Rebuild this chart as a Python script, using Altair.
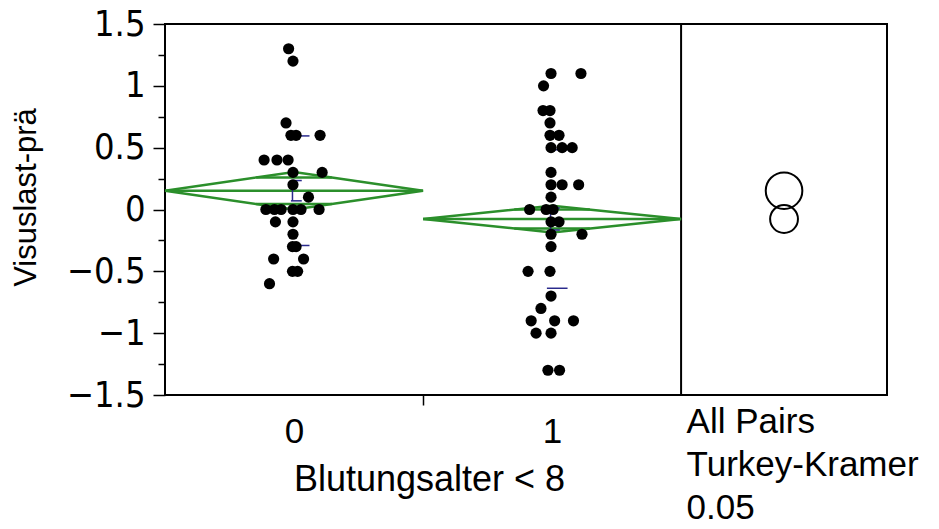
import math
import altair as alt
import pandas as pd

# ---------------- data ----------------
groups = [0, 1]
group_labels = ["0", "1"]

# group 0 observations and their horizontal jitter (fraction of group width)
g0_values = [1.3, 1.2, 0.7, 0.6, 0.6, 0.6, 0.4, 0.4, 0.4, 0.3, 0.3, 0.2, 0.1,
             0.0, 0.0, 0.0, 0.0, 0.0, 0.0, -0.1, -0.1, -0.2, -0.3, -0.3,
             -0.4, -0.4, -0.5, -0.5, -0.6]
g0_jitter = [-0.021, -0.004, -0.031, -0.012, 0.008, 0.101, -0.116, -0.066, -0.023,
             -0.004, 0.109, -0.004, 0.056, -0.109, -0.076, -0.050, -0.004, 0.027,
             0.097, -0.072, -0.004, -0.004, -0.006, 0.008, -0.079, 0.037, -0.006,
             0.014, -0.095]

# group 1 observations and jitter
g1_values = [1.1, 1.1, 1.0, 0.8, 0.8, 0.7, 0.6, 0.6, 0.5, 0.5, 0.5, 0.3, 0.2, 0.2,
             0.2, 0.1, 0.0, 0.0, 0.0, -0.1, -0.1, -0.2, -0.2, -0.3, -0.5, -0.5,
             -0.7, -0.8, -0.9, -0.9, -0.9, -1.0, -1.0, -1.3, -1.3]
g1_jitter = [-0.004, 0.112, -0.033, -0.035, -0.008, -0.008, -0.008, 0.027, -0.004,
             0.039, 0.078, -0.004, -0.004, 0.039, 0.103, -0.004, -0.087, -0.023,
             0.004, -0.004, 0.027, -0.004, 0.116, -0.004, -0.093, -0.008, -0.004,
             -0.043, -0.081, 0.010, 0.083, -0.062, -0.004, -0.016, 0.029]

# summary statistics per group
means = [0.152, -0.077]
ci_half = [0.152, 0.108]       # half-height of the means diamonds
std_devs = [0.443, 0.560]
std_errs = [0.082, 0.089]
circle_radius = [0.167, 0.127]  # comparison circles (y units)

panel_label_lines = ["All Pairs", "Turkey-Kramer", "0.05"]
x_title = "Blutungsalter < 8"
y_title = "Visuslast-prä"

y_ticks = [-1.5, -1.25, -1.0, -0.75, -0.5, -0.25, 0.0, 0.25, 0.5, 0.75, 1.0, 1.25, 1.5]

# ---------------- layout ----------------
W, H = 722, 371
X_MIN, X_MAX = -0.5, 2.298
Y_MIN, Y_MAX = -1.5, 1.5
PANEL_SPLIT = 1.5
GREEN = "#2b8f2b"
BLUE = "#2a2a8c"

# ---------------- tables ----------------
pts = pd.DataFrame({
    "x": [0 + j for j in g0_jitter] + [1 + j for j in g1_jitter],
    "y": g0_values + g1_values,
})

rows = []
w_ovl = 0.5 * (1 - 1 / math.sqrt(2))
for g, m, h in zip(groups, means, ci_half):
    poly = [(g - 0.5, m), (g, m + h), (g + 0.5, m), (g, m - h), (g - 0.5, m)]
    for k, (xx, yy) in enumerate(poly):
        rows.append({"key": f"d{g}", "ord": k, "x": xx, "y": yy})
    for k, xx in enumerate([g - 0.5, g + 0.5]):
        rows.append({"key": f"m{g}", "ord": k, "x": xx, "y": m})
    for s in (1, -1):
        yy = m + s * h / math.sqrt(2)
        for k, xx in enumerate([g - w_ovl, g + w_ovl]):
            rows.append({"key": f"o{g}{s}", "ord": k, "x": xx, "y": yy})
diamond = pd.DataFrame(rows)

sd_rows, eb_rows, cap_rows = [], [], []
for g, m, sd, se in zip(groups, means, std_devs, std_errs):
    for s in (1, -1):
        sd_rows.append({"x": g - 0.02, "x2": g + 0.06, "y": m + s * sd})
        cap_rows.append({"x": g - 0.012, "x2": g + 0.03, "y": m + s * se})
    eb_rows.append({"x": g - 0.006, "y": m - se, "y2": m + se})
sd_df = pd.DataFrame(sd_rows)
eb_df = pd.DataFrame(eb_rows)
cap_df = pd.DataFrame(cap_rows)

px_per_unit = H / (Y_MAX - Y_MIN)
circ = pd.DataFrame({
    "x": [(PANEL_SPLIT + X_MAX) / 2] * len(groups),
    "y": means,
    "size": [math.pi * (r * px_per_unit) ** 2 for r in circle_radius],
})

# ---------------- axes ----------------
major_test = "abs(datum.value * 2 - round(datum.value * 2)) < 0.001"
y_axis = alt.Axis(
    values=y_ticks,
    labelExpr=f"{major_test} ? format(datum.value, '~g') : ''",
    tickSize={"condition": {"test": major_test, "value": 12}, "value": 7},
    tickWidth=1.5, tickColor="black", domain=False, grid=False,
    labelFont="DejaVu Sans Condensed, Noto Sans", labelFontSize=36,
    labelColor="black", labelPadding=8, labelBaseline="middle",
    title=y_title, titleFont="Liberation Sans", titleFontSize=31,
    titleFontWeight="normal", titleColor="black", titleAngle=-90,
    titleX=-139, titleY=173, titleAlign="center", titleBaseline="middle",
)

lines_js = "[" + ", ".join("'" + t + "'" for t in panel_label_lines) + "]"
x_axis = alt.Axis(
    values=[0, 0.5, 1, PANEL_SPLIT],
    labelExpr=(f"datum.value == 0.5 ? '' : datum.value == {PANEL_SPLIT} ? {lines_js} "
               f": ({group_labels!r})[round(datum.value)]").replace('"', "'"),
    tickOpacity={"condition": {"test": "datum.value == 0.5", "value": 1}, "value": 0},
    tickSize=10, tickWidth=1.5, tickColor="black", domain=False, grid=False,
    labelFont="Liberation Sans", labelFontSize=35, labelColor="black",
    labelBaseline="alphabetic", labelLineHeight=43, labelLimit=0,
    labelAlign={"condition": {"test": f"datum.value == {PANEL_SPLIT}", "value": "left"}, "value": "center"},
    labelPadding={"condition": {"test": f"datum.value == {PANEL_SPLIT}", "value": 27}, "value": 37},
    labelOffset={"condition": {"test": f"datum.value == {PANEL_SPLIT}", "value": 5}, "value": 0},
    labelOverlap=False, labelFlush=False, labelBound=False,
    title=x_title, titleFont="Liberation Sans", titleFontSize=36,
    titleFontWeight="normal", titleColor="black",
    titleX=264, titleY=95, titleAlign="center", titleBaseline="alphabetic",
)

xs = alt.Scale(domain=[X_MIN, X_MAX], nice=False, zero=False)
ys = alt.Scale(domain=[Y_MIN, Y_MAX], nice=False, zero=False)
X = alt.X("x:Q", scale=xs, axis=x_axis)
Y = alt.Y("y:Q", scale=ys, axis=y_axis)

# ---------------- layers ----------------
divider = alt.Chart(pd.DataFrame({"x": [PANEL_SPLIT]})).mark_rule(
    color="black", strokeWidth=2).encode(x=X)

diamonds = alt.Chart(diamond).mark_line(color=GREEN, strokeWidth=2.5).encode(
    x=X, y=Y, detail="key:N", order="ord:Q")

points = alt.Chart(pts).mark_circle(color="black", size=125, opacity=1).encode(x=X, y=Y)

sd_lines = alt.Chart(sd_df).mark_rule(color=BLUE, strokeWidth=1.5).encode(x=X, x2="x2:Q", y=Y)
err_bar = alt.Chart(eb_df).mark_rule(color=BLUE, strokeWidth=1.5).encode(x=X, y=Y, y2="y2:Q")
err_caps = alt.Chart(cap_df).mark_rule(color=BLUE, strokeWidth=1.5).encode(x=X, x2="x2:Q", y=Y)

circles = alt.Chart(circ).mark_point(
    shape="circle", filled=False, color="black", strokeWidth=2, opacity=1
).encode(x=X, y=Y, size=alt.Size("size:Q", scale=None, legend=None))

chart = alt.layer(
    divider, diamonds, sd_lines, err_bar, err_caps, points, circles
).properties(
    width=W, height=H,
    autosize=alt.AutoSizeParams(type="none"),
    padding={"left": 165, "top": 24, "right": 52, "bottom": 134},
    background="white",
).configure_view(stroke="black", strokeWidth=2)

chart.save("out.html", embed_options={"renderer": "svg", "actions": False})
